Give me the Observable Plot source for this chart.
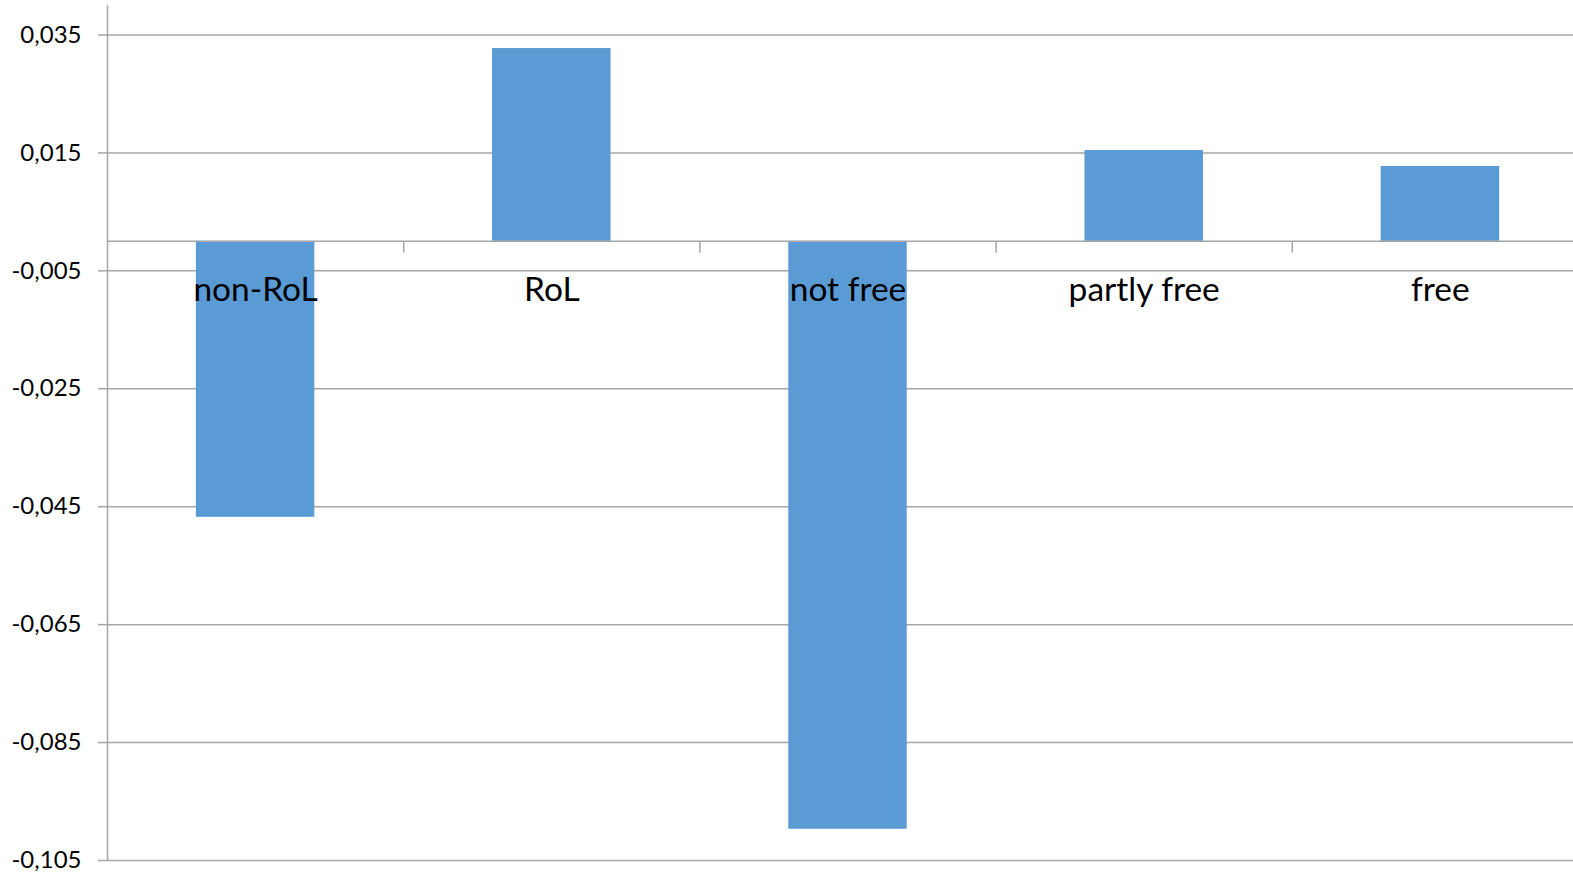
<!DOCTYPE html>
<html>
<head>
<meta charset="utf-8">
<script src="https://cdn.jsdelivr.net/npm/d3@7"></script>
<script src="https://cdn.jsdelivr.net/npm/@observablehq/plot@0.6"></script>
<style>
  html, body { margin: 0; padding: 0; background: #fff; overflow: hidden; }
  #chart svg { display: block; }
</style>
</head>
<body>
<div id="chart"></div>
<script>
const categories = ["non-RoL", "RoL", "not free", "partly free", "free"];
const values = [-0.0468, 0.0327, -0.0997, 0.0154, 0.0127];
const yTicks = [-0.105, -0.085, -0.065, -0.045, -0.025, -0.005, 0.015, 0.035];

const data = categories.map((c, i) => ({category: c, index: i, value: values[i]}));
const boundaries = categories.slice(1).map((c, i) => i + 1);

const fmt = d => d3.format(".3f")(d).replace(".", ",").replace("−", "-");
const gridColor = "#a6a6a6";
const font = "Lato, 'Open Sans', sans-serif";

const chart = Plot.plot({
  width: 1573,
  height: 873,
  marginLeft: 107,
  marginRight: 0,
  marginTop: 5,
  marginBottom: 13,
  style: {fontFamily: font, background: "#fff", color: "#000"},
  x: {domain: [0, categories.length], range: [107, 1588], axis: null},
  y: {domain: [-0.105, 0.04], axis: null},
  marks: [
    Plot.gridY(yTicks, {stroke: gridColor, strokeOpacity: 1, strokeWidth: 1.5}),
    Plot.rectY(data, {x1: d => d.index + 0.3, x2: d => d.index + 0.7, y1: 0, y2: "value", fill: "#5B9BD5"}),
    Plot.ruleY([0], {stroke: gridColor, strokeWidth: 1.5}),
    Plot.ruleX(boundaries, {y1: 0, y2: -0.002, stroke: gridColor, strokeWidth: 1.5}),
    Plot.ruleX([0], {y1: -0.105, y2: 0.04, stroke: gridColor, strokeWidth: 1.5}),
    Plot.axisY(yTicks, {
      tickSize: 9, tickPadding: 17, tickFormat: fmt, stroke: gridColor,
      fontSize: 24, fill: "#000", strokeWidth: 1.5, label: null
    }),
    Plot.text(data, {
      x: d => d.index + 0.5, y: 0, text: "category",
      dy: 49, fontSize: 33.5, fill: "#000", textAnchor: "middle", lineAnchor: "middle"
    })
  ]
});
document.getElementById("chart").appendChild(chart);
</script>
</body>
</html>
